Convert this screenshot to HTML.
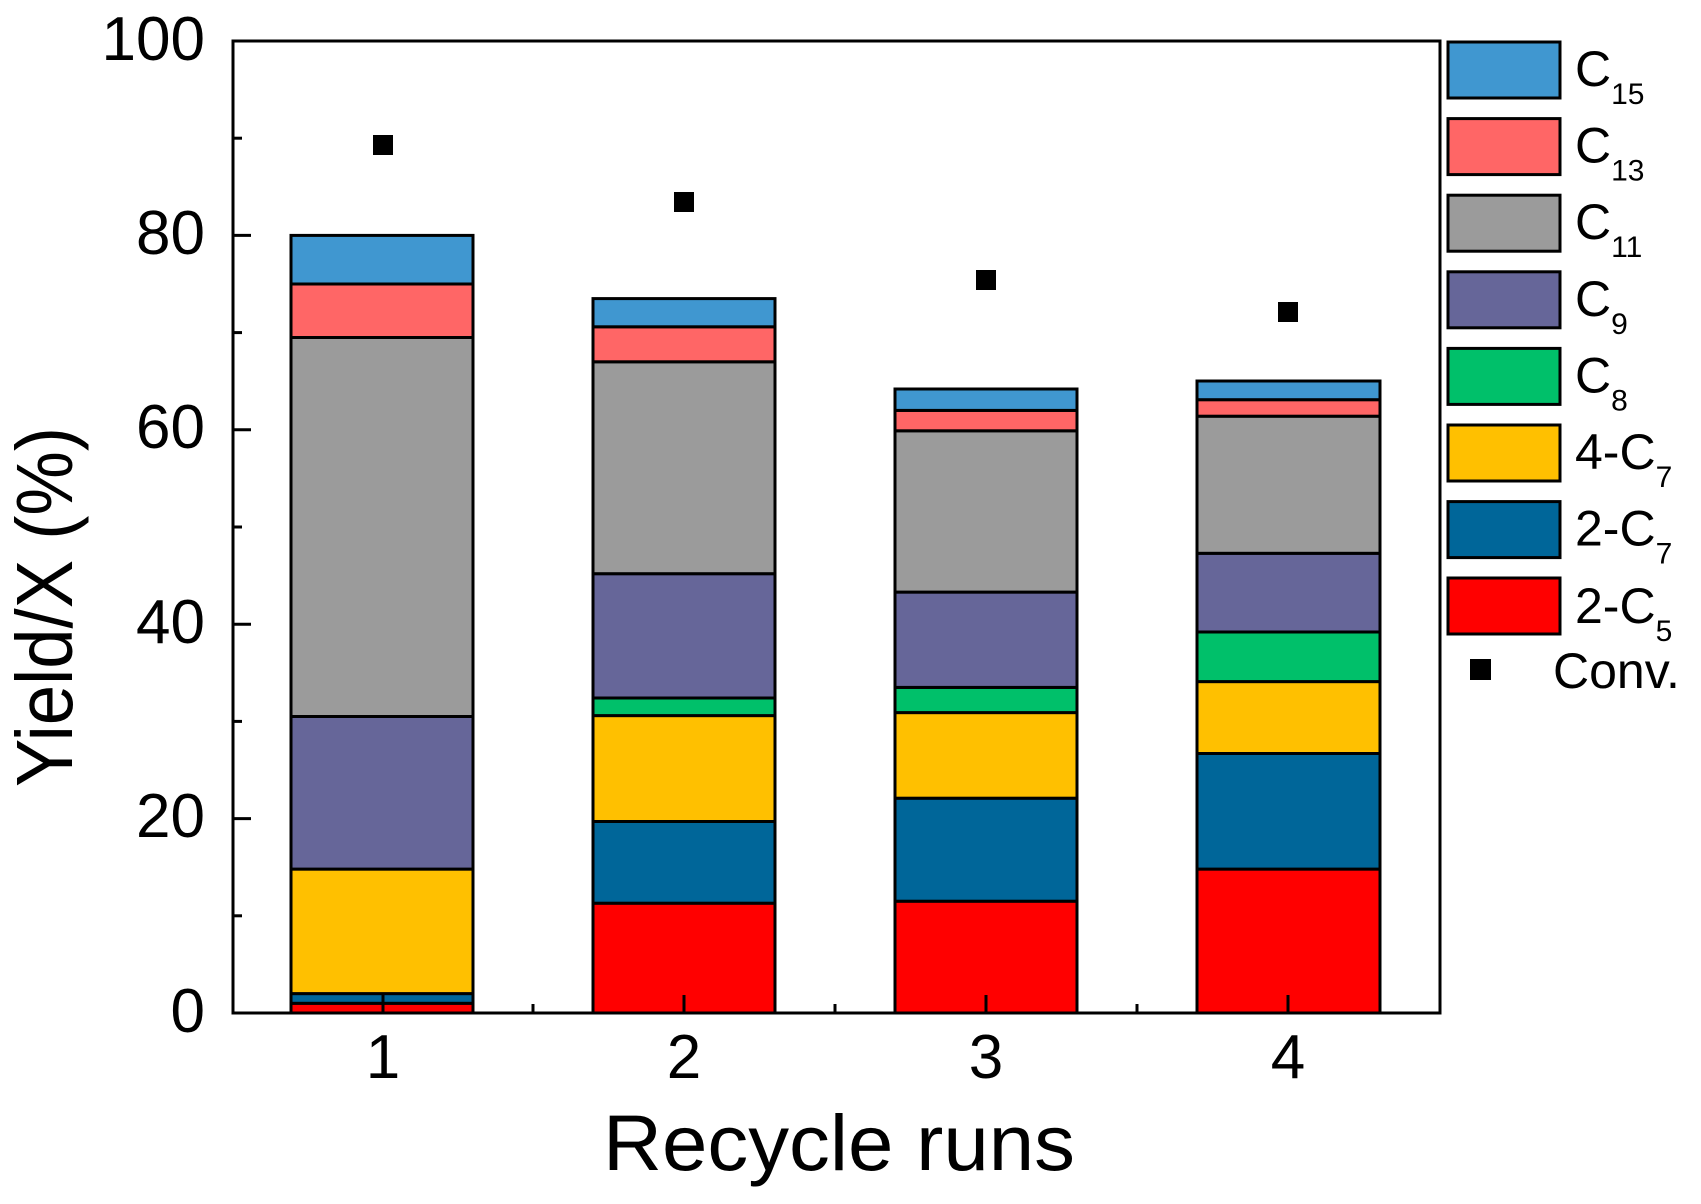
<!DOCTYPE html>
<html><head><meta charset="utf-8"><style>html,body{margin:0;padding:0;background:#fff}svg{display:block}</style></head>
<body>
<svg width="1701" height="1204" viewBox="0 0 1701 1204" xmlns="http://www.w3.org/2000/svg" font-family="Liberation Sans, Arial, sans-serif">
<rect width="1701" height="1204" fill="#fff"/>
<g stroke="#000" stroke-width="3">
<rect x="291" y="1003.3" width="182" height="9.7" fill="#ff0000"/>
<rect x="291" y="993.6" width="182" height="9.7" fill="#006699"/>
<rect x="291" y="869.1" width="182" height="124.5" fill="#ffc000"/>
<rect x="291" y="716.5" width="182" height="152.6" fill="#666699"/>
<rect x="291" y="337.5" width="182" height="379" fill="#9b9b9b"/>
<rect x="291" y="284" width="182" height="53.5" fill="#ff6666"/>
<rect x="291" y="235.4" width="182" height="48.6" fill="#4097d0"/>
<rect x="593" y="903.2" width="182" height="109.8" fill="#ff0000"/>
<rect x="593" y="821.5" width="182" height="81.7" fill="#006699"/>
<rect x="593" y="715.6" width="182" height="105.9" fill="#ffc000"/>
<rect x="593" y="698" width="182" height="17.6" fill="#00c06a"/>
<rect x="593" y="573.7" width="182" height="124.3" fill="#666699"/>
<rect x="593" y="361.8" width="182" height="211.9" fill="#9b9b9b"/>
<rect x="593" y="326.8" width="182" height="35" fill="#ff6666"/>
<rect x="593" y="298.6" width="182" height="28.2" fill="#4097d0"/>
<rect x="895" y="901.2" width="182" height="111.8" fill="#ff0000"/>
<rect x="895" y="798.2" width="182" height="103" fill="#006699"/>
<rect x="895" y="712.6" width="182" height="85.6" fill="#ffc000"/>
<rect x="895" y="687.4" width="182" height="25.2" fill="#00c06a"/>
<rect x="895" y="592.1" width="182" height="95.3" fill="#666699"/>
<rect x="895" y="430.8" width="182" height="161.3" fill="#9b9b9b"/>
<rect x="895" y="410.4" width="182" height="20.4" fill="#ff6666"/>
<rect x="895" y="389" width="182" height="21.4" fill="#4097d0"/>
<rect x="1197" y="869.1" width="183" height="143.9" fill="#ff0000"/>
<rect x="1197" y="753.5" width="183" height="115.6" fill="#006699"/>
<rect x="1197" y="681.6" width="183" height="71.9" fill="#ffc000"/>
<rect x="1197" y="632" width="183" height="49.6" fill="#00c06a"/>
<rect x="1197" y="553.3" width="183" height="78.7" fill="#666699"/>
<rect x="1197" y="416.2" width="183" height="137.1" fill="#9b9b9b"/>
<rect x="1197" y="399.7" width="183" height="16.5" fill="#ff6666"/>
<rect x="1197" y="381" width="183" height="18.7" fill="#4097d0"/>
</g>
<g fill="#000">
<rect x="373" y="135" width="20" height="20"/>
<rect x="674" y="192" width="20" height="20"/>
<rect x="976" y="270" width="20" height="20"/>
<rect x="1278" y="302" width="20" height="20"/>
</g>
<rect x="233" y="41" width="1207" height="972" fill="none" stroke="#000" stroke-width="3"/>
<g stroke="#000" stroke-width="3">
<line x1="233" y1="41" x2="251" y2="41"/>
<line x1="233" y1="235.4" x2="251" y2="235.4"/>
<line x1="233" y1="429.8" x2="251" y2="429.8"/>
<line x1="233" y1="624.2" x2="251" y2="624.2"/>
<line x1="233" y1="818.6" x2="251" y2="818.6"/>
<line x1="233" y1="138.2" x2="242" y2="138.2"/>
<line x1="233" y1="332.6" x2="242" y2="332.6"/>
<line x1="233" y1="527" x2="242" y2="527"/>
<line x1="233" y1="721.4" x2="242" y2="721.4"/>
<line x1="233" y1="915.8" x2="242" y2="915.8"/>
<line x1="383" y1="1013" x2="383" y2="995"/>
<line x1="684" y1="1013" x2="684" y2="995"/>
<line x1="986" y1="1013" x2="986" y2="995"/>
<line x1="1288" y1="1013" x2="1288" y2="995"/>
<line x1="533" y1="1013" x2="533" y2="1004"/>
<line x1="835" y1="1013" x2="835" y2="1004"/>
<line x1="1137" y1="1013" x2="1137" y2="1004"/>
</g>
<g font-size="62" text-anchor="end" fill="#000">
<text x="205" y="60">100</text>
<text x="205" y="254">80</text>
<text x="205" y="448">60</text>
<text x="205" y="643">40</text>
<text x="205" y="837">20</text>
<text x="205" y="1032">0</text>
</g>
<g font-size="62" text-anchor="middle" fill="#000">
<text x="383" y="1078">1</text>
<text x="684" y="1078">2</text>
<text x="986" y="1078">3</text>
<text x="1288" y="1078">4</text>
</g>
<text x="603" y="1170" font-size="79" textLength="472" lengthAdjust="spacingAndGlyphs">Recycle runs</text>
<text transform="translate(72,787) rotate(-90)" font-size="80" textLength="360" lengthAdjust="spacingAndGlyphs">Yield/X (%)</text>
<g stroke="#000" stroke-width="3">
<rect x="1448" y="42" width="112" height="56" fill="#4097d0"/>
<rect x="1448" y="118.6" width="112" height="56" fill="#ff6666"/>
<rect x="1448" y="195.2" width="112" height="56" fill="#9b9b9b"/>
<rect x="1448" y="271.8" width="112" height="56" fill="#666699"/>
<rect x="1448" y="348.4" width="112" height="56" fill="#00c06a"/>
<rect x="1448" y="425" width="112" height="56" fill="#ffc000"/>
<rect x="1448" y="501.6" width="112" height="56" fill="#006699"/>
<rect x="1448" y="578" width="112" height="56" fill="#ff0000"/>
</g>
<g font-size="50" fill="#000">
<text x="1575" y="86">C<tspan font-size="30" dy="18">15</tspan></text>
<text x="1575" y="162.6">C<tspan font-size="30" dy="18">13</tspan></text>
<text x="1575" y="239.2">C<tspan font-size="30" dy="18">11</tspan></text>
<text x="1575" y="315.8">C<tspan font-size="30" dy="18">9</tspan></text>
<text x="1575" y="392.4">C<tspan font-size="30" dy="18">8</tspan></text>
<text x="1575" y="469">4-C<tspan font-size="30" dy="18">7</tspan></text>
<text x="1575" y="545.6">2-C<tspan font-size="30" dy="18">7</tspan></text>
<text x="1575" y="623">2-C<tspan font-size="30" dy="18">5</tspan></text>
<text x="1553" y="688">Conv.</text>
</g>
<rect x="1470" y="659" width="21" height="21" fill="#000"/>
</svg>
</body></html>
